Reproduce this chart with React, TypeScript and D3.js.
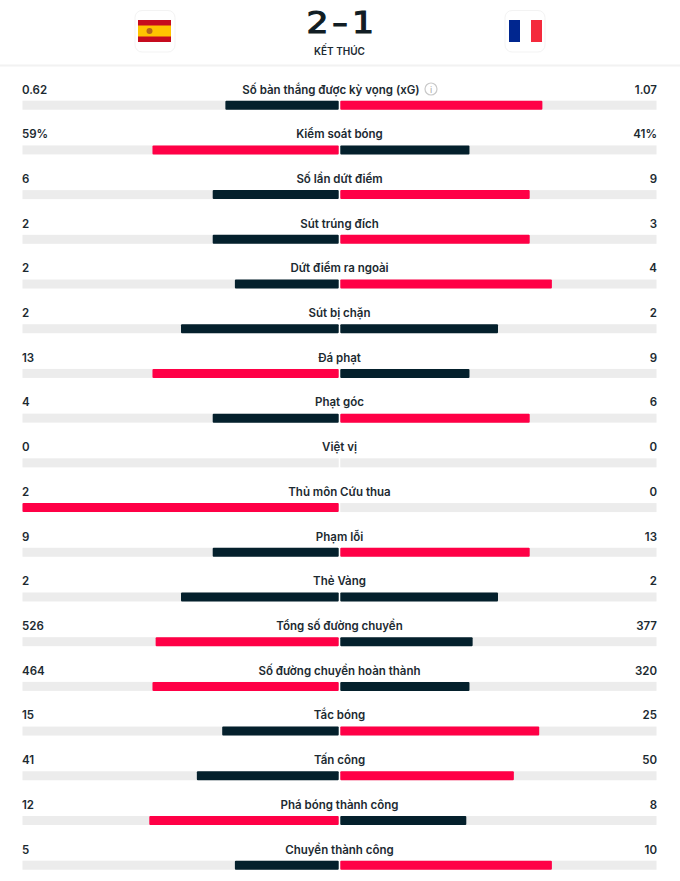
import React, { useRef, useEffect } from 'react';
import * as d3 from 'd3';

const statLabels = [
  'Số bàn thắng được kỳ vọng (xG)', 'Kiểm soát bóng', 'Số lần dứt điểm', 'Sút trúng đích',
  'Dứt điểm ra ngoài', 'Sút bị chặn', 'Đá phạt', 'Phạt góc', 'Việt vị', 'Thủ môn Cứu thua',
  'Phạm lỗi', 'Thẻ Vàng', 'Tổng số đường chuyền', 'Số đường chuyền hoàn thành', 'Tắc bóng',
  'Tấn công', 'Phá bóng thành công', 'Chuyền thành công',
];
const homeLabels = ['0.62', '59%', '6', '2', '2', '2', '13', '4', '0', '2', '9', '2', '526', '464', '15', '41', '12', '5'];
const awayLabels = ['1.07', '41%', '9', '3', '4', '2', '9', '6', '0', '0', '13', '2', '377', '320', '25', '50', '8', '10'];
// Bar lengths in percent of each half
const homeShares = [36, 59, 40, 40, 33, 50, 59, 40, 0, 100, 40, 50, 58, 59, 37, 45, 60, 33];
const awayShares = [64, 41, 60, 60, 67, 50, 41, 60, 0, 0, 60, 50, 42, 41, 63, 55, 40, 67];

const RED = '#ff0046';
const DARK = '#04202c';
const TRACK = '#ececec';
const FONT = 'Inter, "Noto Sans", sans-serif';

const App: React.FC = () => {
  const svgRef = useRef<SVGSVGElement | null>(null);

  useEffect(() => {
    const svg = d3.select(svgRef.current);
    svg.selectAll('*').remove();

    const centerX = 339.5;
    const x = d3.scaleLinear().domain([-100, 100]).range([22.5, 656.5]);
    const rowY = d3.scaleLinear().domain([0, statLabels.length - 1]).range([89, 849]);

    // Header: score, status, flags
    const scoreParts = ['2', '-', '1'];
    const scoreX = [317.5, 340, 363];
    const scoreLen = [22, 16, 22];
    scoreParts.forEach((s, i) => {
      svg.append('text')
        .attr('x', scoreX[i]).attr('y', 33)
        .attr('text-anchor', 'middle')
        .attr('font-family', '"DejaVu Sans", sans-serif').attr('font-size', 30)
        .attr('textLength', scoreLen[i]).attr('lengthAdjust', 'spacingAndGlyphs')
        .attr('fill', '#111d24').attr('stroke', '#111d24').attr('stroke-width', 1.2)
        .text(s);
    });

    svg.append('text')
      .attr('x', centerX).attr('y', 55)
      .attr('text-anchor', 'middle')
      .attr('font-family', FONT).attr('font-size', 10).attr('font-weight', 600)
      .attr('fill', '#1c2a31')
      .text('KẾT THÚC');

    svg.append('rect')
      .attr('x', 0).attr('y', 64.5).attr('width', 680).attr('height', 2)
      .attr('fill', '#f2f2f2');

    const cards = [135, 505];
    cards.forEach(cx => {
      svg.append('rect')
        .attr('x', cx).attr('y', 10.5).attr('width', 40).attr('height', 41.5).attr('rx', 7)
        .attr('fill', '#fff').attr('stroke', '#f3f3f3').attr('stroke-width', 1);
    });

    // Spain
    svg.append('rect').attr('x', 138).attr('y', 20).attr('width', 33).attr('height', 22).attr('fill', '#c60b1e');
    svg.append('rect').attr('x', 138).attr('y', 25.5).attr('width', 33).attr('height', 11).attr('fill', '#ffc400');
    svg.append('circle').attr('cx', 149.5).attr('cy', 31).attr('r', 3).attr('fill', '#b5651d');

    // France
    svg.append('rect').attr('x', 509).attr('y', 20).attr('width', 11).attr('height', 22).attr('fill', '#00268f');
    svg.append('rect').attr('x', 531).attr('y', 20).attr('width', 11).attr('height', 22).attr('fill', '#f42a3c');

    // Stat rows
    statLabels.forEach((label, i) => {
      const y = rowY(i);
      const homeShare = homeShares[i];
      const awayShare = awayShares[i];
      const barY = y + 11.7;
      const barH = 9;

      const row = svg.append('g');

      const addText = (tx: number, anchor: string, t: string) =>
        row.append('text')
          .attr('x', tx).attr('y', y + 4.5)
          .attr('text-anchor', anchor)
          .attr('font-family', FONT).attr('font-size', 11.5).attr('font-weight', 600)
          .attr('fill', '#1c2a31')
          .text(t);

      addText(22, 'start', homeLabels[i]);
      addText(657, 'end', awayLabels[i]);
      addText(i === 0 ? 331 : centerX, 'middle', label);

      // Tracks, with a thin white gap in the middle
      row.append('rect')
        .attr('x', x(-100)).attr('y', barY)
        .attr('width', x(0) - x(-100) - 0.8).attr('height', barH)
        .attr('fill', TRACK);
      row.append('rect')
        .attr('x', x(0) + 0.8).attr('y', barY)
        .attr('width', x(100) - x(0) - 0.8).attr('height', barH)
        .attr('fill', TRACK);

      // The larger side is red, a smaller or level side is dark
      if (homeShare > 0) {
        row.append('rect')
          .attr('x', x(-homeShare)).attr('y', barY)
          .attr('width', x(0) - x(-homeShare) - 0.8).attr('height', barH).attr('rx', 1)
          .attr('fill', homeShare > awayShare ? RED : DARK);
      }
      if (awayShare > 0) {
        row.append('rect')
          .attr('x', x(0) + 0.8).attr('y', barY)
          .attr('width', x(awayShare) - x(0) - 0.8).attr('height', barH).attr('rx', 1)
          .attr('fill', awayShare > homeShare ? RED : DARK);
      }
    });

    // xG info icon
    const infoY = rowY(0);
    svg.append('circle')
      .attr('cx', 431).attr('cy', infoY).attr('r', 6)
      .attr('fill', 'none').attr('stroke', '#c9c9c9').attr('stroke-width', 1.2);
    svg.append('text')
      .attr('x', 431).attr('y', infoY + 3.5)
      .attr('text-anchor', 'middle')
      .attr('font-family', FONT).attr('font-size', 9).attr('fill', '#a8a8a8')
      .text('i');
  }, []);

  return (
    <svg
      ref={svgRef}
      width={680}
      height={881}
      style={{ position: 'absolute', left: 0, top: 0, background: '#fff' }}
    ></svg>
  );
};

export default App;
